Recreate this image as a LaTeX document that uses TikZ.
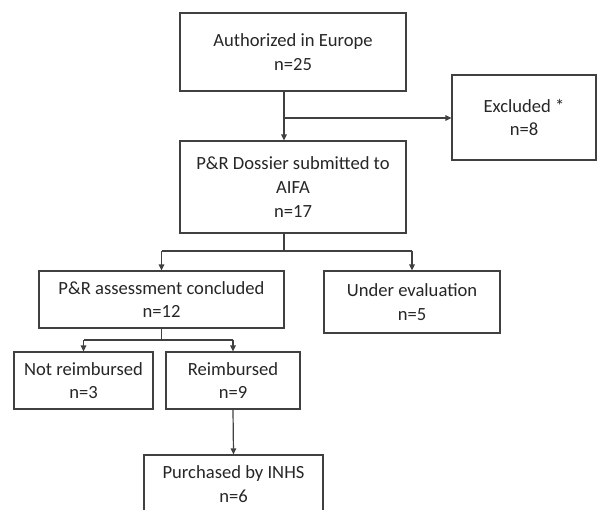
\documentclass[tikz,border=0pt]{standalone}
\usepackage{fontspec}
\setmainfont{Carlito}
\usetikzlibrary{arrows.meta}
\begin{document}
\begin{tikzpicture}[x=1pt,y=-1pt,
  box/.style={draw=black!75,line width=1.2pt,inner sep=0pt,align=center,text=black!85,
    font=\fontsize{18.6}{23.7}\selectfont},
  conn/.style={draw=black!75,line width=1.2pt},
  arr/.style={conn,-{Triangle[length=6pt,width=5.5pt]}}]
\useasboundingbox (0,0) rectangle (597,509);
\node[box,minimum width=226pt,minimum height=78pt] (auth) at (293,52) {Authorized in Europe\\n=25};
\node[box,minimum width=144pt,minimum height=85pt] (excl) at (524,117.5) {Excluded *\\n=8};
\node[box,minimum width=226pt,minimum height=92pt] (dossier) at (293,187) {P\&R Dossier submitted to\\AIFA\\n=17};
\node[box,minimum width=245pt,minimum height=57pt] (assess) at (161.5,299.5) {P\&R assessment concluded\\n=12};
\node[box,minimum width=176pt,minimum height=62pt] (under) at (412,302) {Under evaluation\\n=5};
\node[box,minimum width=139pt,minimum height=57pt] (notr) at (83.5,380.5) {Not reimbursed\\n=3};
\node[box,minimum width=134pt,minimum height=57pt] (reimb) at (233,380.5) {Reimbursed\\n=9};
\node[box,minimum width=179pt,minimum height=58pt] (purch) at (233.5,484) {Purchased by INHS\\n=6};
\coordinate (j1) at (284,118);
\coordinate (j2) at (284,251);
\coordinate (j3) at (161.5,340);
\draw[conn] (auth.south -| j1) -- (j1);
\draw[arr] (j1) -- (dossier.north -| j1);
\draw[arr] (j1) -- (excl.west |- j1);
\draw[conn] (dossier.south -| j2) -- (j2);
\draw[conn] (assess.north |- j2) -- (under.north |- j2);
\draw[arr] (assess.north |- j2) -- (assess.north);
\draw[arr] (under.north |- j2) -- (under.north);
\draw[conn] (assess.south) -- (j3);
\draw[conn] (notr.north |- j3) -- (reimb.north |- j3);
\draw[arr] (notr.north |- j3) -- (notr.north);
\draw[arr] (reimb.north |- j3) -- (reimb.north);
\draw[arr] (reimb.south) -- (purch.north);
\end{tikzpicture}
\end{document}
